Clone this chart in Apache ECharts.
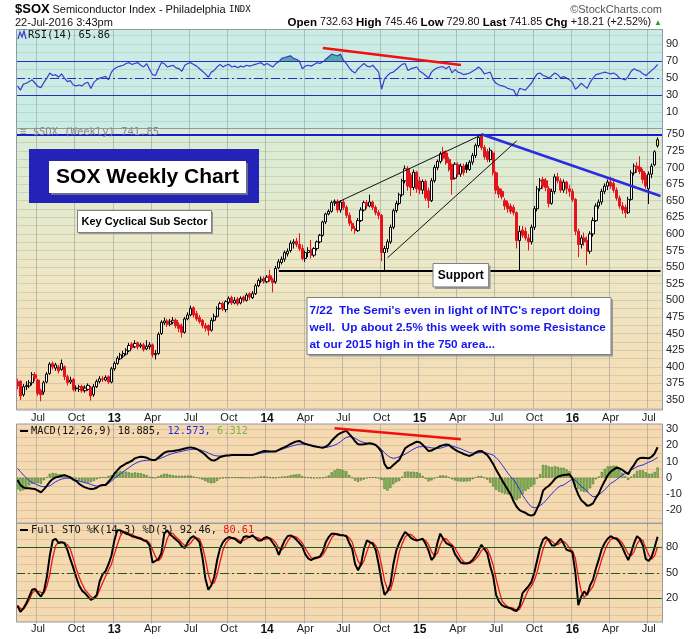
<!DOCTYPE html>
<html><head><meta charset="utf-8">
<script src="https://cdn.jsdelivr.net/npm/echarts@6/dist/echarts.min.js"></script>
<style>html,body{margin:0;padding:0;background:#fff}#c{width:700px;height:639px}</style>
</head><body><div id="c"></div>
<script>
// ---------- data ----------
const firstWeekUTC = [2012, 4, 18];   // first weekly bar: 18-May-2012
const weekSlots = 220;                // 219 weekly bars + one empty slot at the right edge

// weekly [open, high, low, close]
const ohlc = [
[378,382,366,371],[378,380,350,356],[358,374,355,370],[370,378,365,372],[371,380,368,376],[376,392,372,388],[388,392,378,383],[380,382,356,360],[364,367,348,358],[362,379,358,376],
[377,392,375,389],[390,407,388,404],[405,408,396,400],[398,406,394,403],[400,403,390,394],[396,411,394,405],[400,402,380,385],[385,388,372,376],[377,385,374,380],[381,383,363,366],
[368,372,363,367],[366,373,362,370],[370,373,361,364],[364,372,361,368],[366,375,364,372],[369,371,349,356],[358,374,355,370],[370,381,368,378],[378,386,375,382],[382,386,377,381],
[380,387,378,384],[385,387,374,377],[377,400,375,397],[397,408,394,405],[405,416,403,413],[412,421,410,418],[416,424,413,420],[419,428,417,425],[424,436,422,432],[434,437,426,429],
[430,440,428,435],[436,438,426,430],[431,436,428,433],[433,436,423,426],[427,440,425,431],[430,437,426,433],[433,435,414,418],[418,425,411,420],[420,452,418,449],[450,470,448,467],
[466,474,463,469],[469,472,460,464],[464,472,461,468],[467,475,464,470],[470,473,458,462],[463,467,452,458],[461,465,444,452],[452,475,450,472],[472,482,470,478],[478,492,476,488],
[489,491,474,478],[480,484,469,472],[474,478,465,468],[470,472,458,462],[462,466,453,458],[462,464,447,455],[455,474,453,470],[470,480,468,476],[476,491,474,488],[488,498,486,495],
[495,498,484,487],[486,500,482,498],[497,506,494,503],[504,507,493,496],[496,505,494,500],[502,505,492,495],[496,506,494,503],[505,507,497,500],[500,511,498,508],[510,512,501,505],
[504,514,502,510],[510,525,508,522],[522,533,520,530],[529,536,526,532],[533,536,525,528],[528,538,526,535],[537,546,528,531],[531,534,512,527],[528,552,525,548],[549,562,547,558],
[557,566,554,562],[562,575,558,572],[570,578,566,574],[575,590,572,586],[586,592,578,588],[589,594,580,584],[584,601,574,578],[578,584,560,563],[563,575,558,572],[572,580,565,575],
[576,591,563,568],[568,580,565,578],[578,590,575,588],[588,600,586,598],[598,620,596,618],[618,632,615,630],[630,637,628,634],[634,650,632,647],[647,652,642,649],[649,652,632,636],
[636,651,632,648],[648,652,636,640],[640,643,624,628],[628,632,612,616],[616,620,604,608],[608,612,600,605],[605,624,603,620],[620,640,618,636],[636,650,634,647],[647,651,638,642],
[642,659,640,648],[648,650,636,640],[640,643,628,632],[632,636,622,628],[628,630,559,572],[572,582,544,578],[578,592,572,588],[588,614,585,610],[610,638,607,635],[635,650,632,646],
[646,662,643,659],[659,683,656,680],[680,703,676,698],[698,702,665,672],[688,692,657,670],[670,697,666,693],[693,695,662,668],[680,686,660,666],[666,682,660,679],[679,682,650,654],
[665,670,639,650],[650,684,648,680],[680,704,677,700],[700,712,696,709],[709,724,706,721],[724,731,710,714],[722,726,704,707],[712,716,694,697],[704,706,659,682],[684,708,682,705],
[704,708,686,690],[690,706,686,702],[702,706,688,692],[704,708,692,697],[697,711,695,708],[708,722,704,718],[718,736,714,733],[733,748,730,745],[748,751,726,730],[730,734,712,716],
[724,728,708,712],[712,730,708,726],[722,725,688,692],[692,694,660,666],[668,672,654,660],[664,668,652,656],[650,654,636,642],[646,650,632,638],[642,646,630,634],[640,644,628,632],
[632,634,578,590],[590,612,543,604],[606,612,594,598],[604,610,590,594],[594,600,575,588],[588,614,584,610],[610,642,606,638],[638,672,634,668],[668,684,664,680],[682,686,668,672],
[680,684,664,670],[668,672,640,646],[646,668,644,664],[664,690,660,686],[686,692,676,680],[680,684,662,666],[666,682,662,678],[678,680,660,668],[668,674,656,664],[664,668,648,652],
[652,654,598,604],[604,608,565,584],[584,598,578,594],[594,602,582,588],[590,596,553,574],[574,604,570,600],[600,625,596,620],[620,646,618,642],[642,652,638,648],[648,668,644,664],
[664,676,660,672],[672,682,666,678],[678,686,668,672],[676,684,662,666],[666,670,650,654],[654,658,638,642],[642,648,630,636],[640,644,624,632],[632,656,630,652],[652,696,650,692],
[692,706,688,702],[702,708,692,698],[700,717,690,694],[694,698,676,682],[688,692,668,672],[668,694,645,690],[690,706,684,702],[704,726,702,723.64],[732.63,745.46,729.80,741.85]
];

const rsi14 = [
41,36,43,44,46,48,44,40,39,45, 50,56,53,54,51,55,50,46,47,42, 41,42,41,44,45,38,45,48,50,51,
52,48,57,61,63,64,65,67,68,66, 67,68,65,63,67,60,54,53,61,68, 67,63,64,65,62,61,58,65,67,68,
66,64,61,58,55,51,57,59,63,66, 63,65,66,63,64,62,64,63,65,64, 65,66,67,68,65,67,65,63,67,69,
73,74,75,76,73,72,70,61,64,65, 64,66,68,67,69,72,75,78,77,76, 78,71,67,62,58,56,61,64,67,64,
63,65,61,57,37,49,53,56,57,60, 63,66,67,59,61,62,63,58,56,53, 50,57,60,62,63,63,61,64,56,60,
57,56,54,55,56,58,60,63,60,55, 56,57,48,44,42,41,40,38,37,36, 29,38,37,36,40,44,50,55,56,53,
52,50,53,56,54,50,52,50,48,45, 37,40,44,41,38,45,50,54,55,56, 57,56,55,56,54,50,49,48,52,58,
61,59,58,55,53,56,59,62,65.86
];

const macdLine = [
-1.4,-4.5,-6.0,-6.6,-6.6,-6.8,-7.0,-8.0,-9.1,-7.2, -5.0,-2.5,-0.8,0.2,0.6,1.2,1.6,1.0,0.2,-1.2,
-2.1,-3.8,-5.0,-6.0,-6.6,-7.0,-6.8,-6.2,-5.0,-4.5, -4.5,-2.5,-0.4,2.5,4.5,6.5,7.6,8.8,9.6,10.5,
12.0,12.6,13.0,12.8,12.4,11.5,11.0,11.0,12.5,14.0, 15.5,16.2,16.4,16.6,16.9,17.2,17.6,18.1,18.5,18.8,
18.4,17.8,16.8,15.6,14.1,12.3,11.0,10.6,11.5,12.8, 13.3,13.7,13.8,14.0,14.1,14.1,14.0,14.1,14.1,14.1,
14.1,14.6,15.4,16.0,16.5,16.4,16.2,16.2,16.3,17.3, 18.2,19.0,19.8,20.9,21.8,22.5,22.8,21.7,21.0,20.5,
20.0,19.5,19.1,18.8,18.6,19.3,20.5,22.9,24.8,26.5, 27.6,28.4,29.0,27.0,25.0,22.5,20.7,20.6,20.7,21.0,
21.3,21.0,20.3,18.5,16.0,8.5,5.8,6.2,7.9,9.5, 11.0,14.5,18.2,19.5,20.5,21.5,22.3,22.0,20.4,18.5,
16.5,16.8,17.8,18.6,19.7,20.2,20.6,20.3,18.6,17.4, 16.3,15.5,14.7,14.0,13.5,14.3,15.5,16.4,16.6,15.4,
14.0,11.5,8.5,5.0,1.8,-1.5,-4.5,-7.5,-10.5,-14.8, -18.0,-20.1,-21.0,-21.7,-23.0,-23.5,-22.8,-19.0,-14.9,-8.0,
-6.2,-5.0,-3.0,-0.8,0.6,1.2,1.7,1.9,2.1,-0.4, -6.0,-10.5,-13.9,-15.5,-17.4,-17.0,-15.9,-12.5,-9.7,-5.5,
-2.0,1.5,3.7,5.0,6.2,5.8,4.8,3.5,2.1,5.5, 8.0,11.0,12.2,12.4,12.2,12.0,13.0,15.0,18.885
];

const signalLine = [
5.8,3.8,1.7,-0.1,-1.8,-3.0,-3.8,-4.6,-5.3,-5.6, -5.4,-5.0,-3.8,-2.5,-1.6,-0.9,-0.4,-0.3,-0.4,-0.9,
-1.5,-2.0,-2.6,-3.1,-3.5,-4.2,-4.8,-5.2,-5.1,-4.9, -4.6,-3.6,-2.0,-0.5,1.0,2.4,3.7,5.0,6.3,7.6,
8.7,9.6,10.2,10.6,10.8,10.9,11.0,11.2,11.6,12.2, 13.0,13.8,14.5,15.1,15.6,16.0,16.4,16.8,17.2,17.5,
17.6,17.6,17.3,16.8,16.2,15.3,14.5,13.8,13.5,13.4, 13.5,13.6,13.7,13.8,13.9,14.0,14.0,14.1,14.2,14.3,
14.4,14.5,14.8,15.2,15.6,15.9,16.1,16.2,16.5,16.9, 17.5,18.2,18.8,19.4,19.9,20.4,20.7,20.8,20.6,20.3,
20.1,19.8,19.4,19.0,18.8,18.7,19.1,19.6,20.2,21.0, 22.3,23.8,25.0,25.4,25.2,24.4,23.3,22.4,21.8,21.4,
21.1,20.7,20.2,19.0,17.5,15.5,13.8,12.6,12.0,12.3, 13.0,13.8,14.5,15.6,16.8,17.8,18.8,19.2,19.3,19.2,
18.8,18.5,18.3,18.2,18.3,18.8,19.4,19.9,19.6,19.1, 18.5,17.9,17.1,16.3,15.6,15.2,15.2,15.4,15.6,15.6,
15.2,14.6,14.0,12.5,10.5,8.0,5.5,2.8,0.6,-1.4, -4.0,-7.3,-10.8,-13.5,-16.0,-18.0,-18.6,-18.4,-17.2,-15.9,
-14.0,-12.0,-9.7,-8.0,-6.2,-5.0,-4.5,-3.3,-2.0,-0.8, -1.5,-3.5,-5.5,-6.6,-8.5,-10.4,-11.8,-11.5,-10.5,-9.1,
-7.5,-5.5,-3.5,-2.5,-1.2,0.2,1.7,2.5,3.5,4.8, 5.8,6.8,7.5,7.9,8.8,9.6,10.4,11.4,12.573
];

const stoK = [
11,4,8,14,22,30,31,26,22,28, 45,70,88,90,85,86,85,77,66,56, 45,35,29,26,22,18,20,24,40,48,
52,60,70,88,100,100,98,96,95,93, 92,91,90,88,87,82,62,64,66,73, 96,100,95,92,89,86,81,79,86,91,
93,90,86,68,43,30,35,45,65,79, 86,90,92,91,90,87,85,92,93,92, 94,91,88,88,91,92,90,85,80,71,
80,88,93,94,92,89,85,81,72,67, 65,67,68,69,75,86,92,96,96,95, 94,94,93,85,78,60,53,60,78,88,
86,84,77,60,40,24,28,36,60,76, 85,92,98,95,91,89,88,89,90,84, 76,65,69,85,96,90,85,83,81,72,
67,62,61,61,62,65,70,76,83,78, 73,58,46,24,16,12,10,9,8,6, 5,11,26,30,34,39,50,65,80,89,
92,88,82,82,86,90,84,77,76,74, 50,12,22,28,24,35,42,55,66,78, 85,90,93,91,90,86,80,72,65,74,
85,93,90,82,66,64,69,80,92.46
];

const stoD = [
12,8,7,12,18,26,29,28,27,26, 34,48,68,82,86,86,85,83,78,67, 55,45,37,30,26,22,20,22,30,38,
46,53,60,72,83,93,98,98,96,95, 93,92,91,89,88,85,77,69,64,68, 78,90,97,96,92,89,85,82,82,85,
90,91,90,81,66,48,37,38,48,63, 77,85,89,91,91,89,87,88,90,92, 93,92,91,89,89,90,91,89,85,79,
77,80,87,92,93,92,89,85,79,73, 68,66,67,68,71,77,84,91,95,96, 95,94,94,91,86,74,64,58,64,75,
84,86,82,74,59,41,31,29,41,57, 74,84,92,95,95,92,89,89,89,88, 83,75,70,73,83,90,90,86,83,79,
73,67,63,61,61,63,66,70,76,79, 78,70,59,43,29,17,13,10,9,8, 6,7,14,22,30,34,41,51,65,78,
87,90,87,84,83,86,87,84,79,76, 67,45,28,21,25,29,34,44,54,66, 76,84,89,91,91,89,85,79,72,70,
75,84,89,88,79,71,66,70,80.61
];

// annotation lines: [week index, value]
const resistanceLevel = 750;
const supportLine   = [[89, 544], [219, 544]];
const downTrend     = [[158, 750], [219, 657]];
const wedgeUpper    = [[108, 645.5], [158, 749]];
const wedgeLower    = [[126, 564], [170, 740]];
const rsiDivergence = [[104, 85], [151, 65.3]];
const macdDivergence= [[108, 30.7], [151, 23.8]];

const monthNames = ['Jan','Feb','Mar','Apr','May','Jun','Jul','Aug','Sep','Oct','Nov','Dec'];

// ---------- build ----------
const weeks = [];
(function(){ const t0 = Date.UTC(firstWeekUTC[0], firstWeekUTC[1], firstWeekUTC[2]);
  for (let i = 0; i < weekSlots; i++) weeks.push(new Date(t0 + i*7*864e5).toISOString().slice(0,10)); })();
const monthOf = s => +s.slice(5,7);
const qStart = weeks.map((w,i) => i>0 && monthOf(w)!==monthOf(weeks[i-1]) && [1,4,7,10].includes(monthOf(w)));

const FONT = "'Liberation Sans', Arial, sans-serif";
const MONO = "'DejaVu Sans Mono', monospace";
const L = 16, W = 646;

const candleData = ohlc.map((r,i) => {
  const [o,h,l,c] = r;
  const prev = i>0 ? ohlc[i-1][3] : o;
  const edge = c < prev ? '#e3141b' : '#000';
  const last = i === ohlc.length-1;
  const fill = last ? '#ffff00' : (c < o ? edge : '#ffffff');
  return {value:[o,c,l,h], itemStyle:{color:fill,color0:fill,borderColor:edge,borderColor0:edge,borderWidth:1}};
});
const macdHist = macdLine.map((v,i) => +(v - signalLine[i]).toFixed(3));
const pt = (p) => ({coord:[weeks[p[0]], p[1]]});
const seg = (a, style) => [Object.assign(pt(a[0]), {lineStyle: style}), pt(a[1])];

function xAxis(gi, showLabel, margin){
  return {type:'category', gridIndex:gi, data:weeks, boundaryGap:true,
    axisLine:{show:false}, axisTick:{show:false},
    axisLabel:{show:showLabel, interval:(i)=>qStart[i], margin:margin, fontSize:11, color:'#222', fontFamily:FONT,
      formatter:(v)=>{const m=monthOf(v); return m===1 ? '{y|'+v.slice(2,4)+'}' : monthNames[m-1];},
      rich:{y:{fontWeight:'bold', fontSize:12, color:'#111', fontFamily:FONT}}},
    splitLine:{show:true, interval:(i)=>qStart[i], lineStyle:{color:'rgba(110,120,135,0.38)', width:1}}};
}
function yAxis(gi, min, max, interval, showFn, showMin, gridColor){
  return {type:'value', gridIndex:gi, position:'right', min:min, max:max, interval:interval,
    axisLine:{show:false}, axisTick:{show:false},
    axisLabel:{margin:4, fontSize:11, color:'#222', fontFamily:FONT, formatter:(v)=> showFn(v) ? String(v) : ''},
    splitLine:{show:true, showMinLine:showMin, showMaxLine:false, lineStyle:{color:gridColor, width:1}}};
}

const option = {
  animation:false,
  grid:[
    {left:L, width:W, top:29.5, height:100.07},
    {left:L, width:W, top:128.5, height:279.8},
    {left:L, width:W, top:424, height:102.13},
    {left:L, width:W, top:523.3, height:100.47}
  ],
  xAxis:[xAxis(0,false,2), xAxis(1,true,4), xAxis(2,false,2), xAxis(3,true,0)],
  yAxis:[
    yAxis(0,-10,106.7,10,(v)=>[10,30,50,70,90].includes(v),false,'rgba(90,140,140,0.20)'),
    yAxis(1,337.5,758.7,12.5,(v)=>v>=350&&v<=750&&v%25===0,true,'rgba(120,120,90,0.20)'),
    yAxis(2,-30,33.28,5,(v)=>v>=-20&&v<=30&&v%10===0,false,'rgba(140,110,70,0.20)'),
    yAxis(3,-10,108.2,10,(v)=>[20,50,80].includes(v),false,'rgba(140,110,70,0.20)')
  ],
  visualMap:[{show:false, type:'piecewise', seriesIndex:0, dimension:1,
    pieces:[{lt:30,color:'#4fae9f'},{gte:30,lte:70,color:'rgba(0,0,0,0)'},{gt:70,color:'#4fae9f'}]}],
  series:[
    {type:'line', xAxisIndex:0, yAxisIndex:0, data:rsi14, symbol:'none', silent:true, z:1,
     lineStyle:{width:0}, areaStyle:{origin:70, opacity:1}},
    {type:'line', xAxisIndex:0, yAxisIndex:0, data:rsi14, symbol:'none', silent:true, z:3,
     lineStyle:{color:'#3b3bd4', width:1.2},
     markLine:{silent:true, symbol:'none', label:{show:false}, animation:false, data:[
       {yAxis:70, lineStyle:{color:'#2d2db8', width:1.2, type:'solid'}},
       {yAxis:30, lineStyle:{color:'#2d2db8', width:1.2, type:'solid'}},
       {yAxis:50, lineStyle:{color:'#2d2db8', width:1.2, type:[9,3,2,3]}},
       seg(rsiDivergence, {color:'#f01010', width:2.5, type:'solid'})
     ]}},
    {type:'candlestick', xAxisIndex:1, yAxisIndex:1, data:candleData, barWidth:2.7, silent:true, z:3,
     markLine:{silent:true, symbol:'none', label:{show:false}, animation:false, data:[
       {yAxis:resistanceLevel, lineStyle:{color:'#1c1cd0', width:2.2, type:'solid'}},
       seg(supportLine, {color:'#000', width:2.2, type:'solid'}),
       seg(downTrend, {color:'#2b2be0', width:2.6, type:'solid'}),
       seg(wedgeUpper, {color:'#111', width:1, type:'solid'}),
       seg(wedgeLower, {color:'#111', width:1, type:'solid'})
     ]}},
    {type:'bar', xAxisIndex:2, yAxisIndex:2, data:macdHist, barWidth:2.2, silent:true, z:2,
     itemStyle:{color:'#8fca5e', borderColor:'#3f6f2a', borderWidth:0.6}},
    {type:'line', xAxisIndex:2, yAxisIndex:2, data:signalLine, symbol:'none', silent:true, z:3,
     lineStyle:{color:'#2a2ae0', width:1}},
    {type:'line', xAxisIndex:2, yAxisIndex:2, data:macdLine, symbol:'none', silent:true, z:4,
     lineStyle:{color:'#000', width:2},
     markLine:{silent:true, symbol:'none', label:{show:false}, animation:false, data:[
       seg(macdDivergence, {color:'#f01010', width:2.5, type:'solid'})
     ]}},
    {type:'line', xAxisIndex:3, yAxisIndex:3, data:stoD, symbol:'none', silent:true, z:3,
     lineStyle:{color:'#f01414', width:1.3}},
    {type:'line', xAxisIndex:3, yAxisIndex:3, data:stoK, symbol:'none', silent:true, z:4,
     lineStyle:{color:'#000', width:2},
     markLine:{silent:true, symbol:'none', label:{show:false}, animation:false, data:[
       {yAxis:80, lineStyle:{color:'#1f5a1f', width:1.2, type:'solid'}},
       {yAxis:20, lineStyle:{color:'#1f5a1f', width:1.2, type:'solid'}},
       {yAxis:50, lineStyle:{color:'#1f5a1f', width:1.2, type:[9,3,2,3]}}
     ]}}
  ],
  graphic:{elements:[
    // panel backgrounds
    {type:'rect', z:-10, silent:true, shape:{x:L,y:29.5,width:W,height:99}, style:{fill:'#cbece4'}},
    {type:'rect', z:-10, silent:true, shape:{x:L,y:128.5,width:W,height:281.5},
      style:{fill:{type:'linear',x:0,y:0,x2:0,y2:1,colorStops:[{offset:0,color:'#d8ecd7'},{offset:0.45,color:'#ebe8c8'},{offset:1,color:'#f6dcb3'}]}}},
    {type:'rect', z:-10, silent:true, shape:{x:L,y:424,width:W,height:99.3}, style:{fill:'#f5d9b0'}},
    {type:'rect', z:-10, silent:true, shape:{x:L,y:523.3,width:W,height:98.7}, style:{fill:'#f5d9b0'}},
    // panel borders
    {type:'rect', z:30, silent:true, shape:{x:L+0.5,y:29.5,width:W,height:99}, style:{fill:null,stroke:'#8f9aa3',lineWidth:1}},
    {type:'rect', z:30, silent:true, shape:{x:L+0.5,y:128.5,width:W,height:281.5}, style:{fill:null,stroke:'#8f9aa3',lineWidth:1}},
    {type:'rect', z:30, silent:true, shape:{x:L+0.5,y:424,width:W,height:99.3}, style:{fill:null,stroke:'#8f9aa3',lineWidth:1}},
    {type:'rect', z:30, silent:true, shape:{x:L+0.5,y:523.3,width:W,height:98.7}, style:{fill:null,stroke:'#8f9aa3',lineWidth:1}},
    // header
    {type:'text', z:40, style:{x:15, y:9, text:'$SOX', font:'bold 13px '+FONT, fill:'#000', textVerticalAlign:'middle'}},
    {type:'text', z:40, style:{x:52.5, y:9.5, text:'Semiconductor Index - Philadelphia', font:'11px '+FONT, fill:'#111', textVerticalAlign:'middle'}},
    {type:'text', z:40, style:{x:229, y:10, text:'INDX', font:'9px '+MONO, fill:'#111', textVerticalAlign:'middle'}},
    {type:'text', z:40, style:{x:15, y:22.5, text:'22-Jul-2016 3:43pm', font:'11px '+FONT, fill:'#111', textVerticalAlign:'middle'}},
    {type:'text', z:40, style:{x:662, y:9.5, text:'\u00a9StockCharts.com', font:'11px '+FONT, fill:'#555', textAlign:'right', textVerticalAlign:'middle'}},
    {type:'text', z:40, style:{x:662, y:22.5, textAlign:'right', textVerticalAlign:'middle', font:'10.8px '+FONT, fill:'#111',
      text:'{b|Open} 732.63 {b|High} 745.46 {b|Low} 729.80 {b|Last} 741.85 {b|Chg} +18.21 (+2.52%) {g|\u25b2}',
      rich:{b:{fontWeight:'bold', fontSize:11.5, fontFamily:FONT, fill:'#000'}, g:{fontSize:8, fill:'#2d9b2d', fontFamily:FONT}}}},
    // panel legends
    {type:'polyline', z:40, silent:true, shape:{points:[[18,39],[20,32],[22,37],[24,31],[26,39]]}, style:{stroke:'#3b3bd4', lineWidth:1.2, fill:null}},
    {type:'text', z:40, style:{x:28, y:35, text:'RSI(14) 65.86', font:'10.5px '+MONO, fill:'#111', textVerticalAlign:'middle'}},
    {type:'text', z:40, style:{x:20, y:132.5, text:'\u2261 $SOX (Weekly) 741.85', font:'10.5px '+MONO, fill:'#8a8a8a', textVerticalAlign:'middle'}},
    {type:'line', z:40, silent:true, shape:{x1:20,y1:431,x2:28,y2:431}, style:{stroke:'#000', lineWidth:2}},
    {type:'text', z:40, style:{x:31, y:431, textVerticalAlign:'middle', font:'10.3px '+MONO, fill:'#111',
      text:'{k|MACD(12,26,9) 18.885,}{b| 12.573,}{g| 6.312}',
      rich:{k:{fill:'#111', fontSize:10.3, fontFamily:MONO}, b:{fill:'#2a2ae0', fontSize:10.3, fontFamily:MONO}, g:{fill:'#7ab648', fontSize:10.3, fontFamily:MONO}}}},
    {type:'line', z:40, silent:true, shape:{x1:20,y1:530,x2:28,y2:530}, style:{stroke:'#000', lineWidth:2}},
    {type:'text', z:40, style:{x:31, y:530, textVerticalAlign:'middle', font:'10.3px '+MONO, fill:'#111',
      text:'{k|Full STO %K(14,3) %D(3) 92.46,}{r| 80.61}',
      rich:{k:{fill:'#111', fontSize:10.3, fontFamily:MONO}, r:{fill:'#f01414', fontSize:10.3, fontFamily:MONO}}}},
    // title box
    {type:'rect', z:40, silent:true, shape:{x:29,y:149,width:230,height:54}, style:{fill:'#2323b8'}},
    {type:'rect', z:41, silent:true, shape:{x:51,y:163,width:197,height:32}, style:{fill:'#6b6b8a'}},
    {type:'rect', z:42, silent:true, shape:{x:49,y:161,width:197,height:32}, style:{fill:'#fff'}},
    {type:'text', z:43, style:{x:147.5, y:177.5, text:'SOX Weekly Chart', font:'bold 21px '+FONT, fill:'#000', textAlign:'center', textVerticalAlign:'middle'}},
    // key cyclical box
    {type:'rect', z:41, silent:true, shape:{x:79,y:212,width:134,height:22}, style:{fill:'#9a9a9a'}},
    {type:'rect', z:42, silent:true, shape:{x:77.5,y:210.5,width:134,height:22}, style:{fill:'#fff', stroke:'#808080', lineWidth:1}},
    {type:'text', z:43, style:{x:144.5, y:221.5, text:'Key Cyclical Sub Sector', font:'bold 11px '+FONT, fill:'#000', textAlign:'center', textVerticalAlign:'middle'}},
    // support box
    {type:'rect', z:41, silent:true, shape:{x:435,y:265.5,width:55.6,height:23.4}, style:{fill:'#9a9a9a'}},
    {type:'rect', z:42, silent:true, shape:{x:433,y:263.5,width:55.6,height:23.4}, style:{fill:'#fff', stroke:'#808080', lineWidth:1}},
    {type:'text', z:43, style:{x:460.8, y:275.5, text:'Support', font:'bold 12px '+FONT, fill:'#000', textAlign:'center', textVerticalAlign:'middle'}},
    // comment box
    {type:'rect', z:41, silent:true, shape:{x:309,y:299.5,width:304,height:57}, style:{fill:'#9a9a9a'}},
    {type:'rect', z:42, silent:true, shape:{x:307,y:297.5,width:304,height:57}, style:{fill:'#fff', stroke:'#808080', lineWidth:1}},
    {type:'text', z:43, style:{x:309.5, y:310.5, text:"7/22  The Semi's even in light of INTC's report doing", font:'bold 11.8px '+FONT, fill:'#1616ee', textVerticalAlign:'middle'}},
    {type:'text', z:43, style:{x:309.5, y:327.5, text:"well.  Up about 2.5% this week with some Resistance", font:'bold 11.8px '+FONT, fill:'#1616ee', textVerticalAlign:'middle'}},
    {type:'text', z:43, style:{x:309.5, y:344.5, text:"at our 2015 high in the 750 area...", font:'bold 11.8px '+FONT, fill:'#1616ee', textVerticalAlign:'middle'}}
  ]}
};

const chart = echarts.init(document.getElementById('c'), null, {renderer:'canvas'});
chart.setOption(option);
</script>
</body></html>
